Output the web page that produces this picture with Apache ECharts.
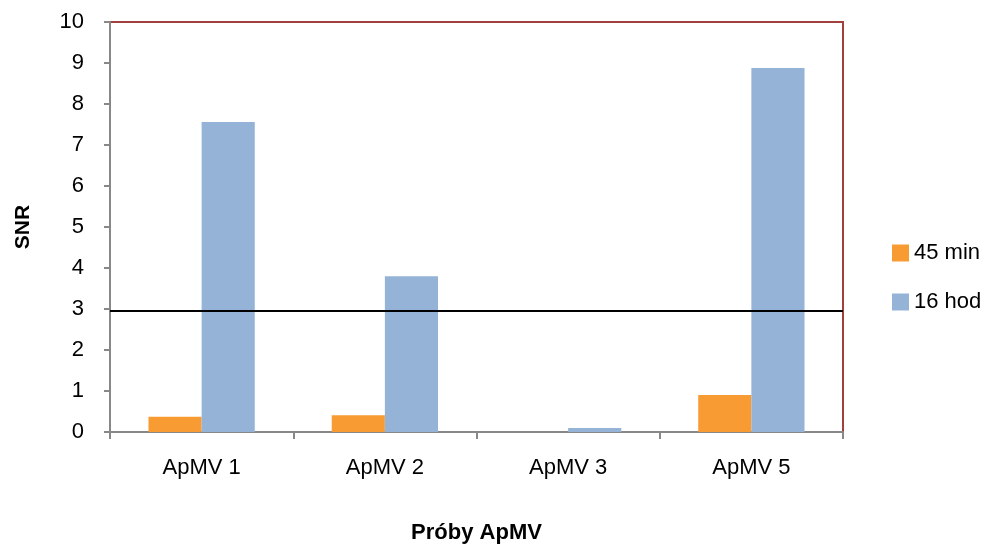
<!DOCTYPE html>
<html><head><meta charset="utf-8">
<script src="https://cdn.jsdelivr.net/npm/echarts@6/dist/echarts.min.js"></script>
<style>html,body{margin:0;padding:0;background:#fff}#c{width:987px;height:546px}</style>
</head><body><div id="c"></div>
<script>
const categories = ['ApMV 1', 'ApMV 2', 'ApMV 3', 'ApMV 5'];
const min45 = [0.37, 0.41, 0, 0.9];
const hod16 = [7.56, 3.80, 0.1, 8.88];
const threshold = 2.95;
const seriesNames = ['45 min', '16 hod'];

const chart = echarts.init(document.getElementById('c'));
const font = 'Liberation Sans, Arial, sans-serif';
chart.setOption({
  animation: false,
  grid: { left: 110, top: 22, right: 144, bottom: 114, outerBoundsMode: 'none', containLabel: false,
    show: true, borderColor: '#A0403F', borderWidth: 2, backgroundColor: 'transparent' },
  legend: {
    orient: 'vertical', left: 887, top: 237, itemWidth: 17, itemHeight: 17, itemGap: 27,
    icon: 'rect',
    textStyle: { fontSize: 22, fontFamily: font, color: '#000' },
    data: seriesNames
  },
  xAxis: {
    type: 'category', data: categories,
    name: 'Próby ApMV', nameLocation: 'middle', nameGap: 90,
    nameTextStyle: { fontSize: 22, fontWeight: 'bold', fontFamily: font, color: '#000' },
    axisLine: { lineStyle: { color: '#888', width: 2 } },
    axisTick: { show: true, length: 7, lineStyle: { color: '#888', width: 2 } },
    axisLabel: { fontSize: 22, fontFamily: font, color: '#000', margin: 25 }
  },
  yAxis: {
    type: 'value', min: 0, max: 10, interval: 1,
    name: 'SNR', nameLocation: 'middle', nameGap: 76,
    nameTextStyle: { fontSize: 21, fontWeight: 'bold', fontFamily: font, color: '#000' },
    axisLine: { show: true, lineStyle: { color: '#888', width: 2 } },
    axisTick: { show: true, length: 6, lineStyle: { color: '#888', width: 2 } },
    splitLine: { show: false },
    axisLabel: { fontSize: 22, fontFamily: font, color: '#000', margin: 26 }
  },
  series: [
    { name: seriesNames[0], type: 'bar', data: min45, barGap: '0%', barCategoryGap: '42%',
      itemStyle: { color: '#F99B33' },
      markLine: { symbol: 'none', silent: true, label: { show: false },
        lineStyle: { color: '#000', width: 2, type: 'solid' },
        data: [{ yAxis: threshold }] } },
    { name: seriesNames[1], type: 'bar', data: hod16, barGap: '0%', barCategoryGap: '42%',
      itemStyle: { color: '#95B3D7' } }
  ]
});
</script></body></html>
